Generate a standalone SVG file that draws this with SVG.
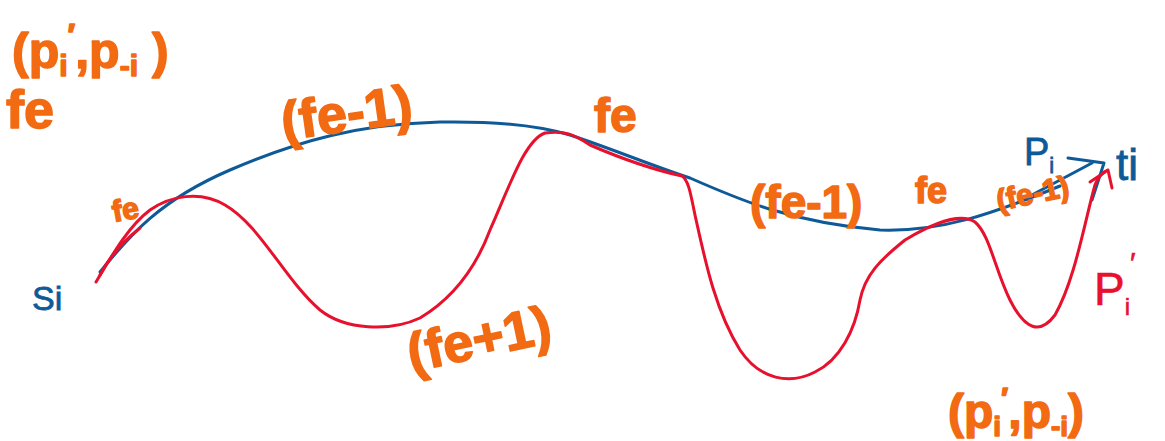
<svg xmlns="http://www.w3.org/2000/svg" width="1165" height="441" viewBox="0 0 1165 441">
<style>
.o{fill:#f26a12;stroke:#f26a12;stroke-width:1.5;font-family:"Liberation Sans",sans-serif;font-weight:bold;stroke-linejoin:round}
.b{fill:#0e5a98;stroke:#0e5a98;stroke-width:0.8;font-family:"Liberation Sans",sans-serif}
.r{fill:#e8112d;stroke:#e8112d;stroke-width:0.6;font-family:"Liberation Sans",sans-serif}
.bl{fill:none;stroke:#0e5a98;stroke-width:3;stroke-linecap:round;stroke-linejoin:round}
.rl{fill:none;stroke:#e8112d;stroke-width:3;stroke-linecap:round;stroke-linejoin:round}
</style>
<rect width="1165" height="441" fill="#fff"/>
<g id="connectors">
<path class="bl" d="M100,272 C130,235 160,200 230,170 C300,140 360,124 440,122 C500,121 540,126 570,135 C610,148 650,165 690,178 C740,200 790,222 880,230 C940,232 990,215 1060,186"/>
<path class="bl" d="M1030,196 L1092,163 M1068,158 L1104,163 L1092,200"/>
<path class="rl" d="M96,282 C115,250 130,225 150,210 C170,196 200,190 225,205 C260,225 285,280 320,310 C345,330 390,332 420,318 C450,300 475,270 490,230 C510,185 525,140 545,133 C565,130 575,135 590,145 C620,158 655,170 682,176 C688,180 690,190 695,215 C705,260 715,310 740,350 C760,380 790,385 815,372 C840,360 855,330 860,300 C865,275 880,260 905,240 C930,225 960,212 975,222 C990,235 995,270 1010,300 C1025,330 1040,335 1055,315 C1075,280 1085,220 1095,185 C1097,178 1103,172 1108,170 L1112,188"/>
<path class="rl" d="M100,275 C110,255 125,240 140,228" stroke-width="2.5"/>
<path class="rl" d="M1090,182 L1105,172" stroke-width="2.5"/>
</g>
<g id="labels-left">
<text class="o" x="12" y="68" font-size="50">(p<tspan font-size="30" dy="8">i</tspan><tspan dy="-30" font-size="32">′</tspan><tspan dy="22">,p</tspan><tspan font-size="30" dy="8">-i</tspan><tspan dy="-8"> )</tspan></text>
<text class="o" x="6" y="128" font-size="54">fe</text>
<text class="b" x="32" y="310" font-size="34">Si</text>
</g>
<g id="label-fe-small"><text class="o" x="112" y="220" font-size="30" transform="rotate(-10 125 210)">fe</text></g>
<g id="label-fe-1-top"><text class="o" x="280" y="132" font-size="54" transform="rotate(-8 340 110)">(fe-1)</text></g>
<g id="label-fe-top"><text class="o" x="594" y="132" font-size="48">fe</text></g>
<g id="label-fe+1"><text class="o" x="404" y="360" font-size="54" transform="rotate(-12 465 330)">(fe+1)</text></g>
<g id="label-fe-1-mid"><text class="o" x="750" y="218" font-size="46">(fe-1)</text></g>
<g id="label-fe-mid"><text class="o" x="915" y="203" font-size="36">fe</text></g>
<g id="label-fe-1-right"><text class="o" x="995" y="205" font-size="30" transform="rotate(-12 1025 190)">(fe-1)</text></g>
<g id="label-pi"><text class="b" x="1024" y="165" font-size="38">P<tspan font-size="22" dy="8">i</tspan></text></g>
<g id="label-ti"><text class="b" x="1116" y="180" font-size="44">ti</text></g>
<g id="label-pi-prime"><text class="r" x="1094" y="305" font-size="46">P<tspan font-size="24" dy="10">i</tspan><tspan font-size="30" dy="-42">′</tspan></text></g>
<g id="label-bottom"><text class="o" x="948" y="428" font-size="48">(p<tspan font-size="28" dy="8">i</tspan><tspan dy="-28" font-size="30">′</tspan><tspan dy="20">,p</tspan><tspan font-size="28" dy="8">-i</tspan><tspan dy="-8">)</tspan></text></g>
</svg>
